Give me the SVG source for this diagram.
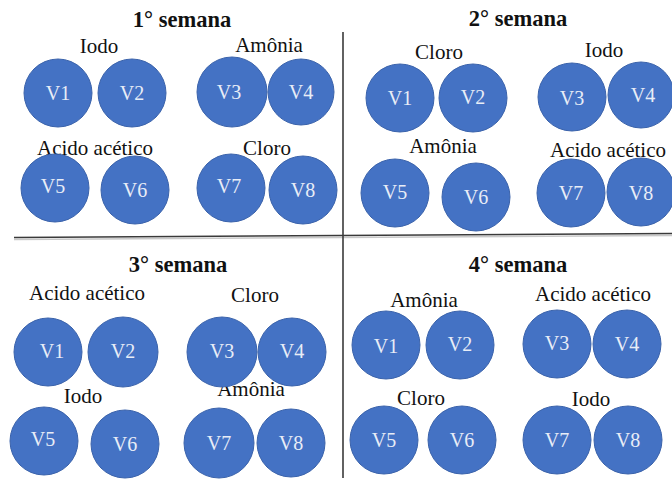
<svg xmlns="http://www.w3.org/2000/svg" width="672" height="479" viewBox="0 0 672 479">
<style>
text{font-family:"Liberation Serif","DejaVu Serif","Times New Roman",serif}
.c{fill:#4472c4;stroke:#3b63ab;stroke-width:1}
.v{font-size:20px;fill:#e8edf7;text-anchor:middle}
.l{font-size:21px;fill:#111;text-anchor:middle}
.t{font-size:22.5px;font-weight:bold;fill:#111;text-anchor:middle}
.ln{stroke:#3a3a3a;stroke-width:1.6;fill:none}
.sh{stroke:#c8c8c8;stroke-width:1.5;fill:none}
</style>
<rect width="672" height="479" fill="#fff"/>
<g id="connectors">
<line class="sh" x1="14" y1="239.5" x2="672" y2="235.5"/>
<line class="ln" x1="14" y1="237.5" x2="672" y2="233.5"/>
<line class="ln" x1="343" y1="32" x2="343" y2="478"/>
</g>
<g id="week1">
<text class="t" x="182" y="27">1° semana</text>
<text class="l" x="99" y="53">Iodo</text>
<text class="l" x="269" y="52">Amônia</text>
<text class="l" x="95" y="155">Acido  acético</text>
<text class="l" x="267" y="155">Cloro</text>
<g id="w1v1"><circle class="c" cx="58" cy="93" r="34"/><text class="v" x="58" y="100">V1</text></g>
<g id="w1v2"><circle class="c" cx="132" cy="93" r="34"/><text class="v" x="132" y="100">V2</text></g>
<g id="w1v3"><circle class="c" cx="232" cy="92" r="35"/><text class="v" x="229" y="99">V3</text></g>
<g id="w1v4"><circle class="c" cx="301" cy="92" r="33"/><text class="v" x="301" y="99">V4</text></g>
<g id="w1v5"><circle class="c" cx="55" cy="188" r="34"/><text class="v" x="53" y="193">V5</text></g>
<g id="w1v6"><circle class="c" cx="135" cy="190" r="34"/><text class="v" x="135" y="197">V6</text></g>
<g id="w1v7"><circle class="c" cx="231" cy="188" r="34"/><text class="v" x="229" y="193">V7</text></g>
<g id="w1v8"><circle class="c" cx="303" cy="190" r="34"/><text class="v" x="303" y="197">V8</text></g>
</g>
<g id="week2">
<text class="t" x="518" y="26">2° semana</text>
<text class="l" x="439" y="59">Cloro</text>
<text class="l" x="604" y="57">Iodo</text>
<text class="l" x="443" y="153">Amônia</text>
<text class="l" x="608" y="157">Acido acético</text>
<g id="w2v1"><circle class="c" cx="400" cy="98" r="34"/><text class="v" x="400" y="105">V1</text></g>
<g id="w2v2"><circle class="c" cx="473" cy="98" r="34"/><text class="v" x="473" y="104">V2</text></g>
<g id="w2v3"><circle class="c" cx="572" cy="97" r="34"/><text class="v" x="572" y="105">V3</text></g>
<g id="w2v4"><circle class="c" cx="641" cy="95" r="33"/><text class="v" x="643" y="102">V4</text></g>
<g id="w2v5"><circle class="c" cx="395" cy="193" r="34"/><text class="v" x="395" y="199">V5</text></g>
<g id="w2v6"><circle class="c" cx="476" cy="197" r="34"/><text class="v" x="476" y="204">V6</text></g>
<g id="w2v7"><circle class="c" cx="571" cy="193" r="34"/><text class="v" x="571" y="200">V7</text></g>
<g id="w2v8"><circle class="c" cx="641" cy="192" r="34"/><text class="v" x="641" y="200">V8</text></g>
</g>
<g id="week3">
<text class="t" x="178" y="272">3° semana</text>
<text class="l" x="87" y="300">Acido  acético</text>
<text class="l" x="255" y="302">Cloro</text>
<text class="l" x="83" y="403">Iodo</text>
<text class="l" x="251" y="396">Amônia</text>
<g id="w3v1"><circle class="c" cx="48" cy="352" r="34"/><text class="v" x="52" y="358">V1</text></g>
<g id="w3v2"><circle class="c" cx="123" cy="352" r="35"/><text class="v" x="123" y="358">V2</text></g>
<g id="w3v3"><circle class="c" cx="222" cy="352" r="35"/><text class="v" x="222" y="358">V3</text></g>
<g id="w3v4"><circle class="c" cx="292" cy="352" r="34"/><text class="v" x="292" y="358">V4</text></g>
<g id="w3v5"><circle class="c" cx="44" cy="441" r="34"/><text class="v" x="43" y="446">V5</text></g>
<g id="w3v6"><circle class="c" cx="125" cy="444" r="34"/><text class="v" x="125" y="451">V6</text></g>
<g id="w3v7"><circle class="c" cx="219" cy="443" r="35"/><text class="v" x="219" y="450">V7</text></g>
<g id="w3v8"><circle class="c" cx="291" cy="443" r="34"/><text class="v" x="291" y="450">V8</text></g>
</g>
<g id="week4">
<text class="t" x="518" y="272">4° semana</text>
<text class="l" x="424" y="307">Amônia</text>
<text class="l" x="593" y="301">Acido  acético</text>
<text class="l" x="421" y="405">Cloro</text>
<text class="l" x="591" y="406">Iodo</text>
<g id="w4v1"><circle class="c" cx="386" cy="345" r="34"/><text class="v" x="386" y="353">V1</text></g>
<g id="w4v2"><circle class="c" cx="460" cy="345" r="34"/><text class="v" x="460" y="351">V2</text></g>
<g id="w4v3"><circle class="c" cx="557" cy="344" r="34"/><text class="v" x="557" y="350">V3</text></g>
<g id="w4v4"><circle class="c" cx="627" cy="344" r="34"/><text class="v" x="627" y="351">V4</text></g>
<g id="w4v5"><circle class="c" cx="384" cy="440" r="34"/><text class="v" x="384" y="447">V5</text></g>
<g id="w4v6"><circle class="c" cx="462" cy="440" r="34"/><text class="v" x="462" y="447">V6</text></g>
<g id="w4v7"><circle class="c" cx="557" cy="440" r="34"/><text class="v" x="557" y="447">V7</text></g>
<g id="w4v8"><circle class="c" cx="628" cy="440" r="34"/><text class="v" x="628" y="447">V8</text></g>
</g>
</svg>
